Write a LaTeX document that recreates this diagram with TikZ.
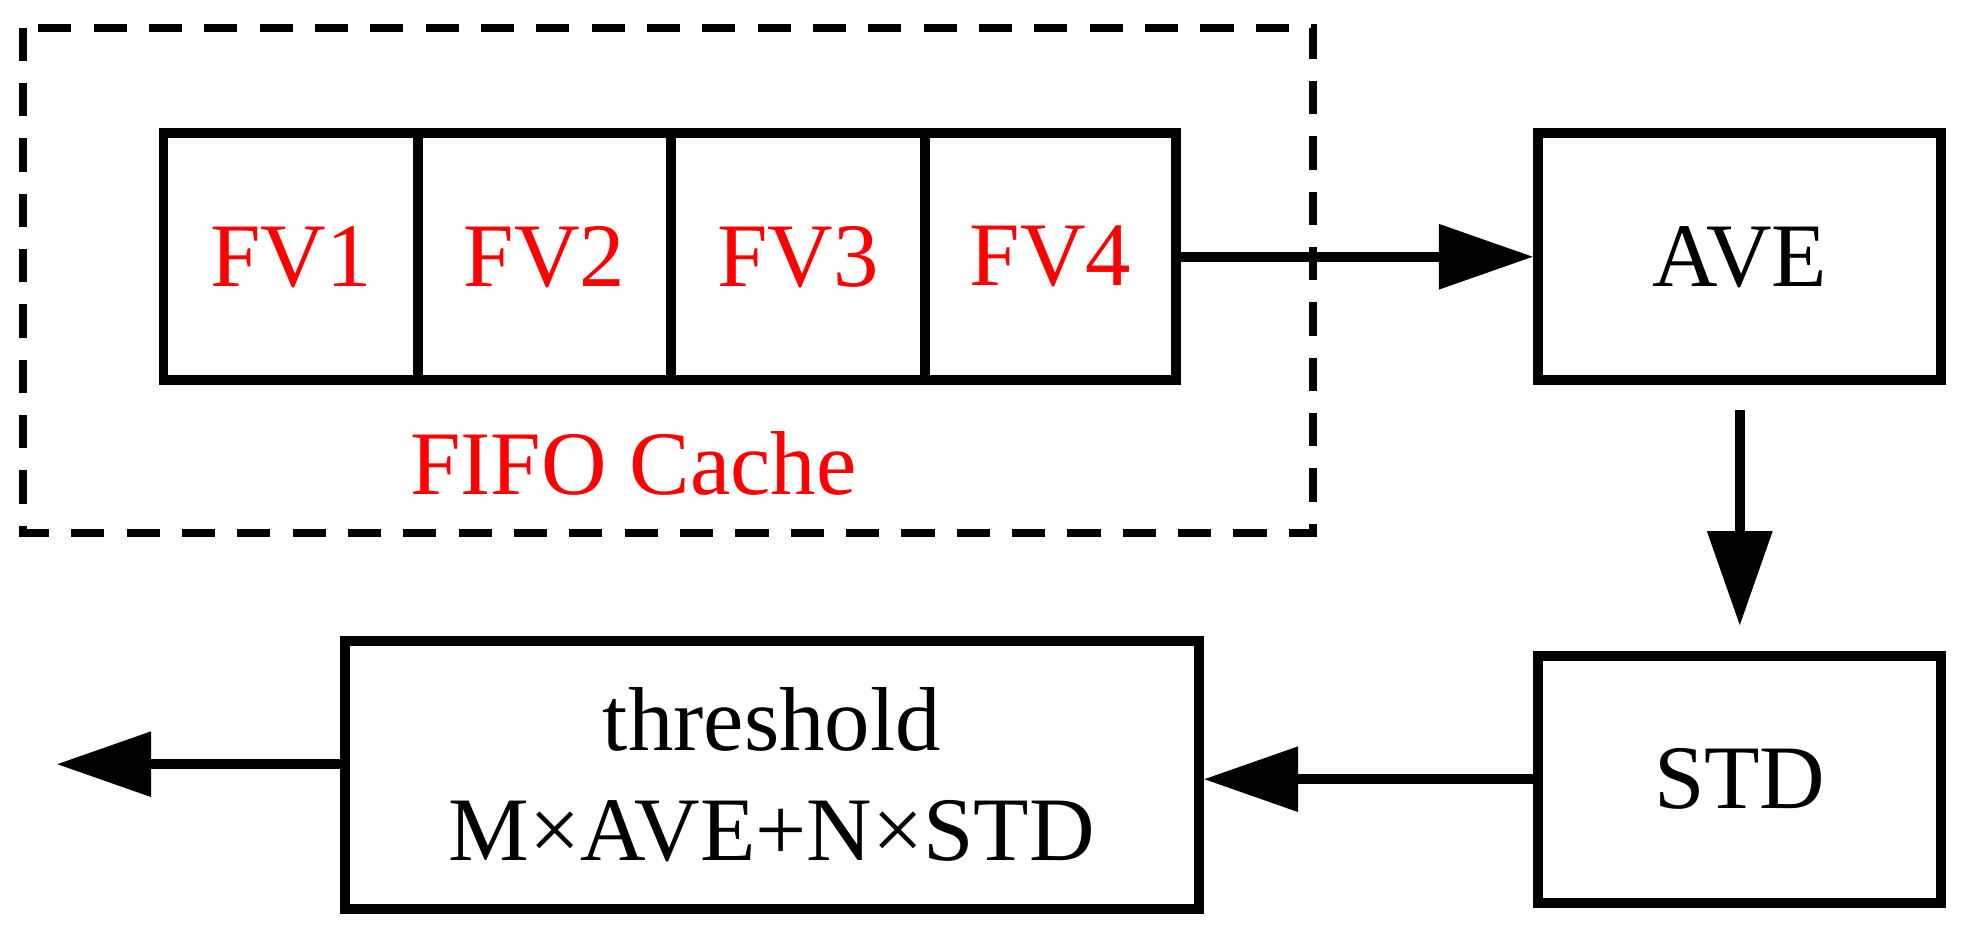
\documentclass[tikz,border=0pt]{standalone}
\usepackage{fontspec}
\setmainfont{Liberation Serif}
\usetikzlibrary{arrows.meta}
\begin{document}
\begin{tikzpicture}[x=0.01cm,y=-0.01cm,
  box/.style={draw,line width=2.2pt,inner sep=0pt},
  txt/.style={font=\fontsize{20.5}{25}\selectfont},
  red txt/.style={txt,text=red},
  conn/.style={line width=2.2pt,-{Triangle[length=7.5mm,width=5mm]}}]
\useasboundingbox (0,0) rectangle (1568,744);
\draw[line width=1.8pt,dash pattern=on 7.5pt off 5pt] (18,22) rectangle (1043,423);
\node[box,anchor=north west,minimum width=2.02cm,minimum height=1.96cm] (c1) at (126,102) {};
\node[box,anchor=north west,minimum width=2.01cm,minimum height=1.96cm] (c2) at (328,102) {};
\node[box,anchor=north west,minimum width=2.02cm,minimum height=1.96cm] (c3) at (529,102) {};
\node[box,anchor=north west,minimum width=1.99cm,minimum height=1.96cm] (c4) at (731,102) {};
\node[red txt] at (c1) {FV1};
\node[red txt] at (c2) {FV2};
\node[red txt] at (c3) {FV3};
\node[red txt] at (c4) {FV4};
\node[red txt] (fifo) at (503,368) {FIFO Cache};
\node[box,txt,anchor=north west,minimum width=3.2cm,minimum height=1.96cm] (ave) at (1218,102) {AVE};
\node[box,txt,anchor=north west,minimum width=3.2cm,minimum height=1.96cm] (std) at (1218,517) {STD};
\node[box,txt,anchor=north west,minimum width=6.78cm,minimum height=2.13cm,align=center] (thr) at (270,505) {threshold\\M×AVE+N×STD};
\coordinate (out) at (45,607);
\draw[conn] (c4.east) -- (ave.west);
\draw[conn] ([yshift=-0.2cm]ave.south) -- ([yshift=0.2cm]std.north);
\draw[conn] (std.west) -- (thr.east |- std.west);
\draw[conn] (thr.west |- out) -- (out);
\end{tikzpicture}
\end{document}
